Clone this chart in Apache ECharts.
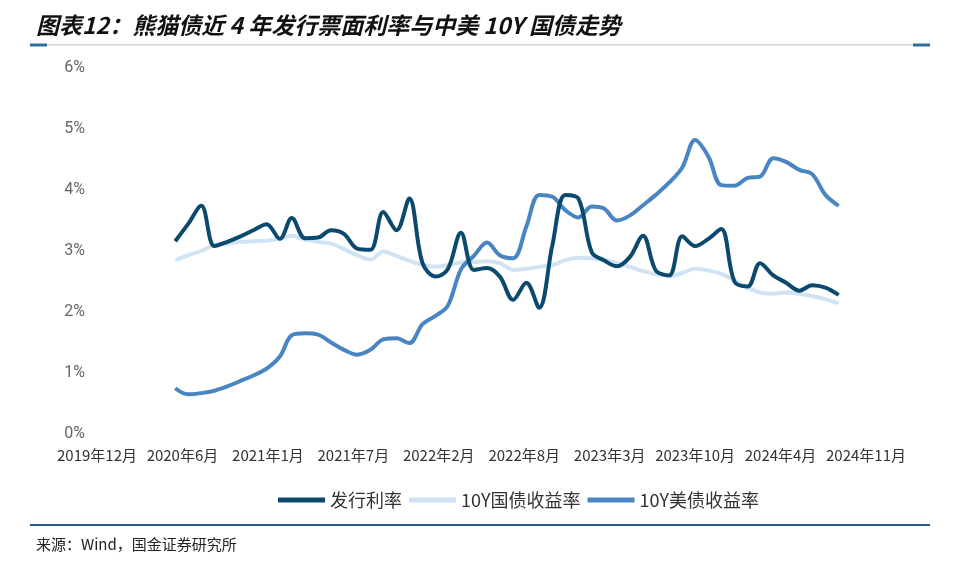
<!DOCTYPE html>
<html>
<head>
<meta charset="utf-8">
<script src="https://cdn.jsdelivr.net/npm/echarts@6/dist/echarts.min.js"></script>
<style>
  html, body { margin: 0; padding: 0; background: #fff; }
  #chart { width: 960px; height: 570px; }
</style>
</head>
<body>
<div id="chart"></div>
<script>
// monthly points, 2020-06 .. 2024-09
const months = [
  '2020-06', '2020-07', '2020-08', '2020-09', '2020-10', '2020-11', '2020-12',
  '2021-01', '2021-02', '2021-03', '2021-04', '2021-05', '2021-06', '2021-07', '2021-08', '2021-09', '2021-10', '2021-11', '2021-12',
  '2022-01', '2022-02', '2022-03', '2022-04', '2022-05', '2022-06', '2022-07', '2022-08', '2022-09', '2022-10', '2022-11', '2022-12',
  '2023-01', '2023-02', '2023-03', '2023-04', '2023-05', '2023-06', '2023-07', '2023-08', '2023-09', '2023-10', '2023-11', '2023-12',
  '2024-01', '2024-02', '2024-03', '2024-04', '2024-05', '2024-06', '2024-07', '2024-08', '2024-09'
]
const issueRate = [
  3.16, 3.44, 3.74, 3.08, 3.15, 3.24, 3.34,
  3.44, 3.20, 3.54, 3.21, 3.22, 3.34, 3.28, 3.04, 3.02, 3.64, 3.34, 3.86,
  2.80, 2.58, 2.70, 3.30, 2.69, 2.72, 2.58, 2.20, 2.48, 2.07, 3.10, 3.92,
  3.86, 2.98, 2.85, 2.75, 2.90, 3.25, 2.68, 2.60, 3.24, 3.08, 3.20, 3.36,
  2.50, 2.42, 2.80, 2.60, 2.48, 2.35, 2.44, 2.40, 2.28
]
const cgb10y = [
  2.85, 2.93, 3.00, 3.10, 3.12, 3.15, 3.16,
  3.17, 3.20, 3.25, 3.19, 3.15, 3.12, 3.03, 2.93, 2.86, 2.99, 2.92, 2.84,
  2.77, 2.74, 2.77, 2.81, 2.82, 2.83, 2.80, 2.69, 2.71, 2.74, 2.77, 2.85,
  2.89, 2.88, 2.86, 2.80, 2.74, 2.67, 2.62, 2.59, 2.64, 2.71, 2.68, 2.63,
  2.52, 2.40, 2.32, 2.30, 2.32, 2.30, 2.26, 2.21, 2.14
]
const ust10y = [
  0.75, 0.65, 0.67, 0.71, 0.78, 0.87, 0.96,
  1.07, 1.27, 1.62, 1.65, 1.63, 1.50, 1.38, 1.30, 1.38, 1.55, 1.57, 1.49,
  1.80, 1.94, 2.10, 2.70, 2.92, 3.14, 2.93, 2.88, 3.40, 3.92, 3.89, 3.67,
  3.55, 3.73, 3.70, 3.50, 3.58, 3.75, 3.92, 4.12, 4.37, 4.82, 4.55, 4.08,
  4.07, 4.20, 4.22, 4.52, 4.46, 4.33, 4.26, 3.92, 3.74
]
const seriesNames = ['发行利率', '10Y国债收益率', '10Y美债收益率']
const xTickLabels = [
  '2019年12月', '2020年6月', '2021年1月', '2021年7月', '2022年2月',
  '2022年8月', '2023年3月', '2023年10月', '2024年4月', '2024年11月'
]

// date axis like excel: days counted from 2019-12-01, a tick every 200 days
const axisStart = Date.UTC(2019, 11, 1)
const tickDays = 200
function dayOf(m) {
  const p = m.split('-')
  return Math.round((Date.UTC(+p[0], +p[1] - 1, 1) - axisStart) / 86400000)
}
function pairs(values) {
  return months.map((m, i) => [dayOf(m), values[i]])
}

const colors = ['#0b4a6e', '#cfe3f4', '#4a85c3']
const cjk = '"Noto Sans CJK SC", sans-serif'

const chart = echarts.init(document.getElementById('chart'))

function lineSerie(name, values, index, z) {
  return {
    name: name,
    type: 'line',
    data: pairs(values),
    smooth: 0.35,
    symbol: 'none',
    z: z,
    lineStyle: { width: 4, color: colors[index] },
    itemStyle: { color: colors[index] }
  }
}

const option = {
  animation: false,
  backgroundColor: '#fff',
  grid: { left: 97, right: 94, top: 68, bottom: 136 },
  xAxis: {
    type: 'value',
    min: 0,
    max: tickDays * (xTickLabels.length - 1),
    interval: tickDays,
    axisLine: { show: false },
    axisTick: { show: false },
    splitLine: { show: false },
    axisLabel: {
      margin: 14,
      fontSize: 15,
      color: '#333',
      fontFamily: cjk,
      formatter: function(v) {
        return xTickLabels[Math.round(v / tickDays)] || ''
      }
    }
  },
  yAxis: {
    type: 'value',
    min: 0,
    max: 6,
    interval: 1,
    axisLine: { show: false },
    axisTick: { show: false },
    splitLine: { show: false },
    axisLabel: {
      margin: 12,
      fontSize: 16,
      color: '#666',
      fontFamily: 'Roboto, sans-serif',
      formatter: '{value}%'
    }
  },
  legend: {
    left: 273,
    top: 486,
    icon: 'rect',
    itemWidth: 47,
    itemHeight: 5,
    itemGap: 7,
    textStyle: { fontSize: 18, color: '#333', fontFamily: cjk },
    data: seriesNames
  },
  series: [
    lineSerie(seriesNames[1], cgb10y, 1, 2),
    lineSerie(seriesNames[2], ust10y, 2, 3),
    lineSerie(seriesNames[0], issueRate, 0, 4)
  ],
  graphic: [
    {
      type: 'text',
      left: 36,
      top: 14,
      style: {
        text: '图表12：熊猫债近 4 年发行票面利率与中美 10Y 国债走势',
        fontSize: 23,
        fontWeight: 'bold',
        fontStyle: 'italic',
        fontFamily: cjk,
        fill: '#111'
      }
    },
    { type: 'rect', shape: { x: 30, y: 44, width: 900, height: 1.5 }, style: { fill: '#d4d4d4' } },
    { type: 'rect', shape: { x: 30, y: 43.5, width: 17, height: 3 }, style: { fill: '#2f6f96' } },
    { type: 'rect', shape: { x: 913, y: 43.5, width: 17, height: 3 }, style: { fill: '#2f6f96' } },
    { type: 'rect', shape: { x: 30, y: 524, width: 900, height: 2 }, style: { fill: '#1f5c86' } },
    {
      type: 'text',
      left: 36,
      top: 537,
      style: {
        text: '来源：Wind，国金证券研究所',
        fontSize: 15,
        fontFamily: cjk,
        fill: '#222'
      }
    }
  ]
}

chart.setOption(option)
</script>
</body>
</html>
